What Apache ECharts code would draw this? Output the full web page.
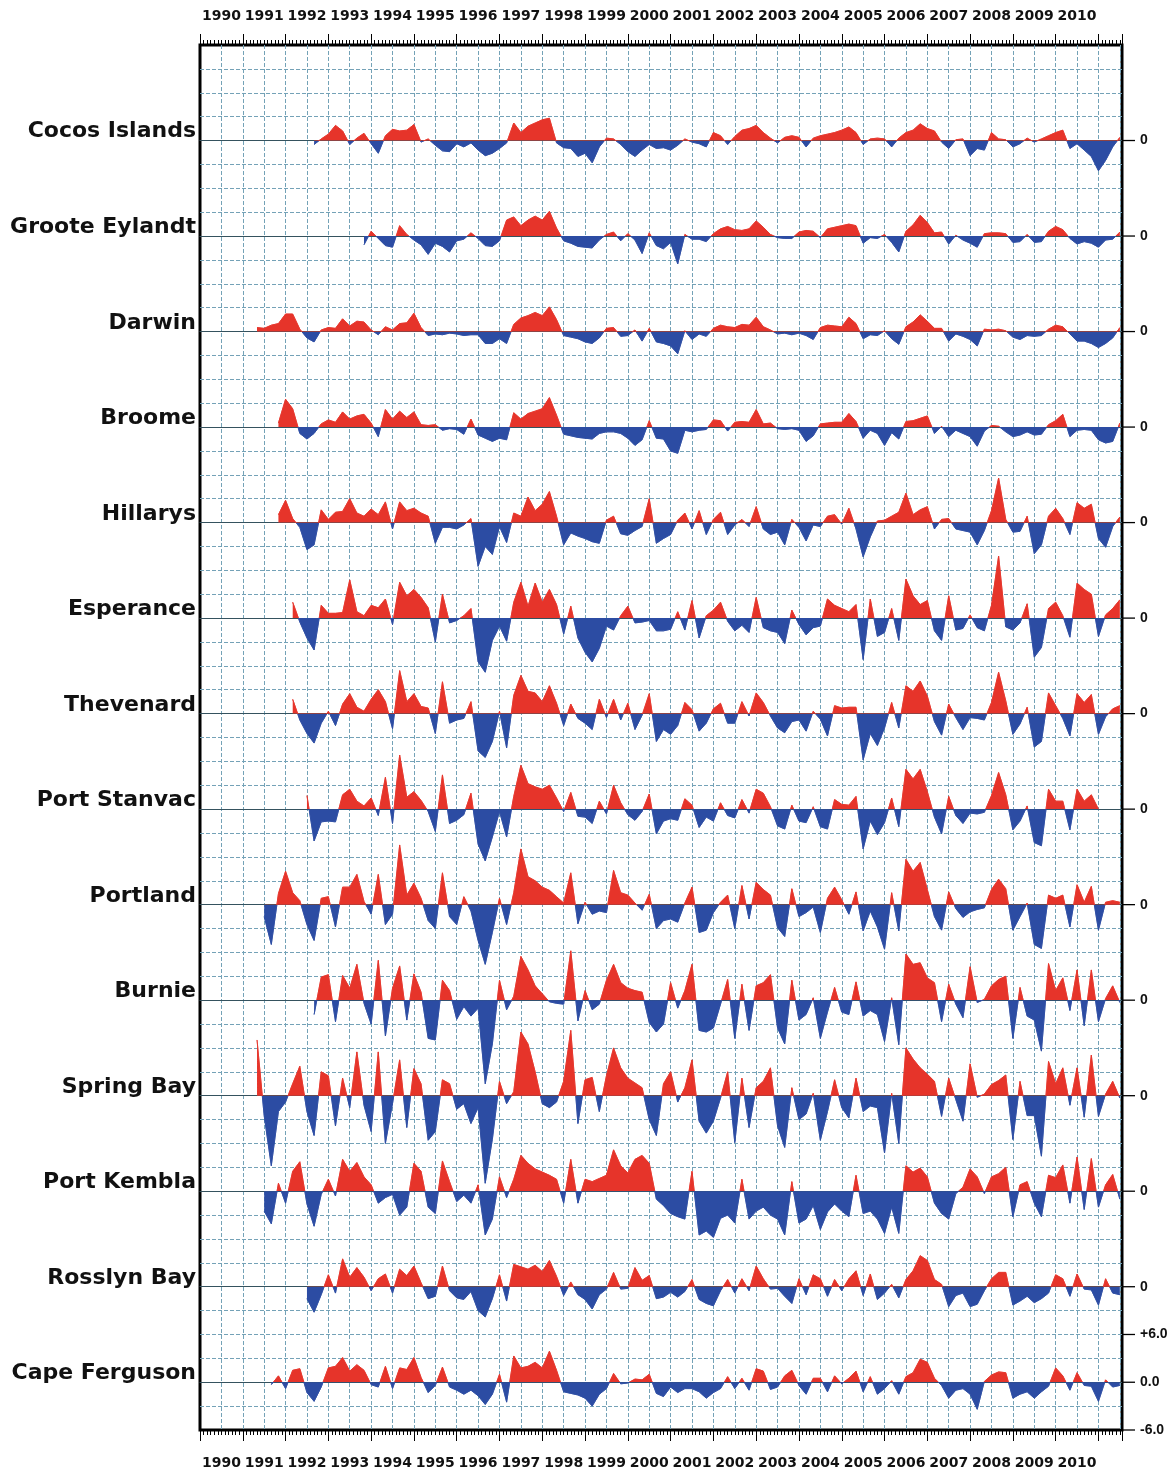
<!DOCTYPE html>
<html>
<head>
<meta charset="utf-8">
<title>Tide gauge anomalies</title>
<script src="https://cdn.jsdelivr.net/npm/echarts@6/dist/echarts.min.js"></script>
<style>
html, body { margin: 0; padding: 0; background: #fff; }
#main { width: 1176px; height: 1473px; }
</style>
</head>
<body>
<div id="main"></div>
<script>
// station names, top to bottom
var stations = ['Cocos Islands', 'Groote Eylandt', 'Darwin', 'Broome', 'Hillarys', 'Esperance', 'Thevenard',
    'Port Stanvac', 'Portland', 'Burnie', 'Spring Bay', 'Port Kembla', 'Rosslyn Bay', 'Cape Ferguson'];

// first sample of each record (decimal year), samples every two months
var starts = [1992.667, 1993.833, 1991.333, 1991.833, 1991.833, 1992.167, 1992.167,
    1992.5, 1991.5, 1992.667, 1991.333, 1991.5, 1992.5, 1991.667];

// values from the start up to 2000.667
var early = [
    [-0.5,0.2,0.8,1.9,1.2,-0.5, 0.3,0.9,-0.4,-1.6,0.6,1.4, 1.2,1.3,2.0,-0.2,0.2,-0.6, -1.3,-1.4,-0.4,-0.8,-0.3,-1.2, -1.9,-1.6,-1.0,-0.3,2.2,1.0, 1.8,2.2,2.6,2.8,-0.3,-0.9, -1.0,-2.0,-1.6,-2.8,-0.8,0.3, 0.2,-0.5,-1.4,-2.0,-1.2,-0.5, -1.0],
    [-1.1,0.6,-0.3,-1.2,-1.4,1.3, 0.2,-0.5,-1.1,-2.3,-0.9,-1.3, -2.0,-0.6,-0.4,0.4,-0.3,-1.2, -1.3,-0.6,2.0,2.4,1.3,2.0, 2.5,2.0,3.1,1.0,-0.6,-0.9, -1.3,-1.4,-1.5,-0.5,0.2,0.5, -0.6,0.3,-0.5,-2.2,0.4,-1.2],
    [0.5,0.4,0.8,1.0,2.2,2.2, 0.3,-0.8,-1.3,0.2,0.5,0.4, 1.6,0.7,1.3,1.2,0.2,-0.4, 0.6,0.2,1.0,1.1,2.3,0.5, -0.5,-0.3,-0.4,-0.2,-0.3,-0.5, -0.4,-0.4,-1.5,-1.5,-0.9,-1.5, 0.9,1.7,2.0,2.4,2.0,3.1, 1.5,-0.5,-0.7,-0.9,-1.3,-1.5, -0.8,0.4,0.5,-0.6,-0.5,0.2, -1.2,0.4,-1.3],
    [0.5,3.5,2.3,-0.8,-1.5,-0.8, 0.4,0.9,0.6,1.9,1.0,1.4, 1.6,0.5,-1.2,2.2,1.0,2.0, 1.2,1.9,0.3,0.2,0.3,-0.4, -0.2,-0.3,-0.9,1.0,-1.0,-1.4, -1.8,-1.4,-1.6,1.8,1.0,1.7, 2.0,2.3,3.7,1.5,-0.9,-1.1, -1.3,-1.4,-1.5,-0.8,-0.6,-0.6, -0.8,-1.4,-2.3,-1.6,0.8,-1.4],
    [1.0,2.8,0.5,-0.6,-3.4,-2.8, 1.6,0.4,1.3,1.4,3.0,1.2, 0.8,1.7,1.0,2.6,-0.8,2.6, 1.5,1.8,1.2,0.8,-2.6,-0.6, -0.6,-0.8,-0.3,0.5,-5.5,-3.0, -4.0,-0.5,-2.5,1.2,0.8,3.2, 1.5,2.3,3.9,0.8,-2.8,-1.3, -1.7,-2.0,-2.4,-2.6,0.3,0.8, -1.4,-1.6,-1.0,-0.5,3.0,-2.6],
    [2.0,-0.5,-2.5,-4.0,1.6,0.6, 0.6,0.7,4.8,0.8,0.3,1.6, 1.3,2.4,-0.8,4.5,2.8,3.6, 2.6,1.3,-3.0,3.0,-0.6,-0.3, 0.3,1.2,-5.5,-6.8,-2.8,-1.0, -2.9,2.0,4.5,1.5,4.4,2.0, 3.6,1.7,-2.0,1.5,-2.5,-4.3, -5.5,-3.8,-1.0,-1.5,0.3,1.5, -0.6,-0.5,-0.3,-1.6],
    [1.8,-0.8,-2.5,-3.7,-1.2,0.3, -1.5,1.2,2.5,0.8,0.3,1.8, 3.0,1.5,-1.9,5.4,1.5,2.5, 0.9,0.7,-2.5,4.0,-1.2,-0.8, -0.6,1.5,-4.7,-5.5,-3.5,0.3, -4.3,2.3,4.8,2.8,2.6,1.5, 3.5,1.3,-1.5,1.2,-0.6,-1.2, -2.0,1.8,-0.5,1.8,-0.8,1.3, -2.0,-0.2,2.5,-3.5],
    [1.7,-4.0,-1.6,-1.5,-1.6,1.8, 2.5,1.0,0.4,1.4,-0.8,4.0, -1.8,6.8,1.5,2.2,1.1,-0.3, -2.8,4.3,-1.8,-1.4,-0.7,2.0, -4.4,-6.5,-3.5,-0.3,-3.5,1.6, 5.5,3.2,2.8,2.5,3.0,1.4, -0.3,2.1,-0.9,-1.0,-1.8,1.0, -0.6,3.0,0.8,-0.7,-1.4,-0.3, 1.9,-3.1],
    [-1.5,-5.0,1.4,4.2,1.5,0.5, -2.5,-4.5,0.8,1.0,-2.8,2.2, 2.2,3.8,0.4,-1.2,3.8,-2.5, -1.2,7.5,1.2,2.7,0.8,-2.0, -3.0,4.0,-1.5,-2.5,1.0,-0.8, -4.5,-7.5,-3.5,0.8,-2.5,1.5, 7.0,3.5,3.0,2.2,1.8,1.0, 0.2,4.0,-2.4,0.3,-1.2,-0.8, -1.0,4.3,1.5,1.2,0.2,-0.7, 1.3,-3.0],
    [-1.8,2.9,3.2,-2.7,3.1,1.5, 4.5,-0.4,-3.0,5.0,-4.5,1.5, 4.3,-2.5,3.3,1.0,-4.8,-5.0, 2.5,1.2,-2.4,-0.8,-2.0,-1.0, -10.5,-5.5,2.5,-1.2,0.5,5.5, 3.8,1.8,0.8,-0.2,-0.4,-0.5, 6.2,-2.6,1.2,-1.2,-0.5,2.5, 4.5,2.2,1.5,1.2,1.0,-2.8, -4.0],
    [7.0,-2.5,-8.8,-2.0,-0.8,1.5, 3.7,-2.0,-5.0,3.0,2.5,-3.8, 2.2,-1.5,5.5,-1.2,-4.5,5.5, -6.0,-1.0,4.5,-4.0,3.4,1.5, -5.6,-4.5,2.0,1.5,-1.7,-1.0, -3.5,-1.5,-11.0,-5.5,1.8,-1.0, 0.5,8.0,6.5,3.0,-1.0,-1.5, -0.8,1.8,8.2,-3.5,2.0,2.3, -2.0,2.5,6.0,3.5,2.2,1.6, 1.0,-3.0,-5.0],
    [-2.5,-4.1,1.0,-1.5,2.5,3.7, -1.6,-4.4,-0.4,1.5,-0.6,4.0, 2.5,3.6,1.8,0.8,-1.5,-0.8, -0.4,-3.0,-2.0,3.5,2.5,-2.0, -2.8,3.8,1.2,-1.3,-0.5,-1.5, 0.8,-5.5,-3.5,1.8,-0.8,1.5, 4.5,3.5,2.8,2.4,2.0,1.5, -1.5,4.0,-1.5,1.5,1.2,1.6, 2.0,5.2,3.2,2.3,4.0,4.5, 3.5,-1.0],
    [-1.5,-3.2,-1.0,1.5,-0.8,3.5, 1.2,2.4,1.2,-0.5,1.0,1.6, -0.8,2.2,1.4,2.6,0.5,-1.5, -1.2,2.6,-0.5,-1.4,-1.6,-0.6, -3.0,-3.8,-1.5,1.5,-1.8,2.8, 2.5,2.2,2.7,1.9,3.3,1.3, -1.1,0.6,-1.0,-1.6,-2.8,-1.0, -0.3,1.8,-0.3,-0.2,2.4,0.8, 1.4,-1.5],
    [-0.3,0.8,-0.8,1.5,1.7,-1.3, -2.4,-0.6,1.8,2.0,3.1,1.4, 2.2,1.5,-0.3,-0.6,2.0,-0.8, 1.8,1.6,3.1,0.6,-1.3,-0.4, 1.9,-0.6,-1.0,-1.5,-1.0,-1.7, -2.8,-1.5,1.0,-2.5,3.3,1.8, 2.0,2.5,1.8,3.9,1.5,-1.2, -1.4,-1.6,-2.0,-3.0,-1.5,-0.8, 1.1,-0.2,-0.1,0.4,0.3,1.0, -1.4]
];

// values from 2000.833 onwards
var lateStart = 2000.833;
var late = [
    [-0.9,-1.2,-0.6,0.2,-0.2,-0.4, -0.8,1.0,0.6,-0.5,0.5,1.3, 1.5,1.9,1.0,0.3,-0.3,0.4, 0.6,0.4,-0.8,0.3,0.6,0.8, 1.0,1.3,1.7,1.0,-0.5,0.2, 0.3,0.2,-0.8,0.3,1.0,1.3, 2.1,1.5,1.2,-0.2,-1.0,0.1, 0.2,-1.9,-1.0,-1.2,1.0,0.2, 0.1,-0.8,-0.4,0.3,-0.2,0.2, 0.6,1.0,1.3,-1.0,-0.4,-1.2, -2.0,-3.8,-2.5,-0.8,0.4],
    [-1.6,-0.8,-3.5,0.2,-0.4,-0.4, -0.7,0.3,0.9,1.2,0.8,0.7, 0.9,1.9,1.1,0.2,-0.2,-0.3, -0.3,0.5,0.7,0.6,-0.2,0.9, 1.1,1.3,1.5,1.3,-0.9,-0.2, -0.3,0.2,-0.8,-2.0,0.6,1.4, 2.6,1.7,0.4,0.5,-1.0,0.1, -0.5,-0.9,-1.4,0.3,0.4,0.4, 0.3,-0.8,-0.7,0.2,-0.8,-0.7, 0.6,1.2,0.8,-0.3,-1.0,-0.7, -0.9,-1.4,-0.5,-0.4,0.5],
    [-1.5,-1.8,-2.8,0.1,-1.0,-0.3, -0.6,0.4,0.8,0.6,0.5,0.9, 0.8,1.8,0.6,0.2,-0.3,-0.2, -0.4,-0.2,-0.5,-1.0,0.5,0.8, 0.7,0.6,1.8,1.0,-0.9,-0.4, -0.5,0.1,-0.9,-1.6,0.6,1.2, 2.1,1.3,0.4,0.4,-1.2,-0.3, -0.6,-1.0,-1.8,0.3,0.2,0.3, 0.1,-0.7,-1.0,-0.5,-0.6,-0.5, 0.3,0.8,0.6,-0.3,-1.2,-1.2, -1.5,-2.0,-1.5,-0.8,0.5],
    [-1.5,-3.0,-3.3,-0.4,-0.6,-0.4, -0.3,0.9,0.8,-0.5,0.6,0.7, 0.6,2.2,0.4,0.5,-0.2,-0.3, -0.2,-0.4,-1.8,-1.1,0.4,0.5, 0.6,0.6,1.7,0.7,-1.4,-0.4, -0.8,-2.3,-0.7,-1.5,0.7,0.8, 1.1,1.4,-0.8,0.1,-1.2,-0.4, -0.8,-1.2,-2.4,-0.5,0.2,0.1, -0.6,-1.2,-1.0,-0.6,-1.0,-0.9, 0.3,0.8,1.6,-1.2,-0.4,-0.3, -0.4,-1.6,-2.0,-1.8,0.5],
    [-2.0,-1.5,0.3,1.2,-0.8,1.5, -1.5,0.4,1.3,-1.5,-0.3,0.4, -0.5,2.0,-0.8,-1.5,-1.2,-2.8, 0.4,-0.6,-2.3,-0.3,-0.5,0.8, 1.0,-0.2,1.8,-0.8,-4.3,-1.8, 0.2,0.3,0.8,1.3,3.7,1.0, 1.6,2.0,-0.8,0.4,0.5,-0.8, -1.0,-1.2,-2.8,-1.0,1.5,5.6, 0.4,-1.2,-1.1,0.8,-3.9,-2.8, 0.8,1.8,0.5,-1.5,2.5,1.8, 2.3,-2.0,-3.1,-0.5,0.7],
    [-1.6,-1.4,0.8,-1.5,2.2,-2.5, 0.3,1.0,2.0,-0.4,-1.6,-0.9, -1.8,2.6,-1.2,-1.6,-1.8,-3.2, 1.0,-0.8,-2.1,-1.2,-1.0,2.4, 1.6,1.2,0.8,1.7,-5.2,2.4, -2.3,-1.8,1.2,-2.8,4.9,2.8, 1.7,2.2,-1.6,-2.8,2.8,-1.5, -1.3,0.4,-1.2,-1.6,1.6,7.8, -1.1,-1.5,-0.6,1.8,-4.9,-3.7, 1.2,2.0,0.3,-2.4,4.4,3.6, 3.0,-2.3,0.4,1.2,2.3],
    [-2.0,-2.6,-1.5,1.4,0.5,-2.2, -1.2,0.6,1.3,-1.2,-1.2,1.5, -0.3,2.6,1.4,-0.3,-1.8,-2.4, -1.0,-0.8,-2.2,0.3,-0.7,-2.8, 1.0,0.7,0.8,0.8,-5.8,-2.5, -4.0,-1.8,1.4,-1.8,3.5,2.8, 4.1,2.2,-1.0,-2.7,1.2,-0.5, -2.0,-0.5,-0.6,-0.8,1.4,5.2, 1.6,-2.6,-1.3,0.8,-4.2,-3.5, 2.6,1.0,-0.6,-2.8,2.5,1.4, 2.4,-2.6,-0.4,0.6,1.0],
    [-1.5,-1.2,-1.4,1.3,0.5,-2.3, -1.0,-1.5,0.8,-0.8,-1.1,1.2, -0.5,2.5,2.0,0.3,-2.1,-2.5, 0.5,-1.5,-1.7,0.3,-2.2,-2.5, 1.2,0.6,0.5,1.6,-5.0,-1.5, -3.2,-1.7,1.4,-2.2,5.0,3.8, 5.0,2.2,-1.0,-3.1,1.6,-0.8, -1.8,-0.5,-0.6,-0.4,1.7,4.6, 1.8,-2.6,-1.5,0.4,-4.2,-4.6, 2.5,1.0,1.0,-2.6,2.5,1.0, 1.8,0],
    [-2.0,-1.8,-2.2,0.2,2.2,-3.5, -3.2,-1.0,0.3,1.2,-3.0,2.4, -1.8,2.8,1.9,1.2,-2.9,-4.0, 2.0,-1.5,-1.0,-0.3,-3.5,0.8, 2.2,0.6,-1.2,1.6,-3.3,-0.8, -2.8,-5.6,1.5,-3.3,5.7,4.2, 5.3,1.9,-1.5,-3.2,1.6,-0.5, -1.6,-0.9,-0.6,-0.4,1.9,3.2, 2.0,-3.2,-1.5,0.2,-5.0,-5.5, 1.2,0.8,1.2,-2.8,2.5,0.3, 2.3,-3.2,0.3,0.5,0.3],
    [-3.0,2.2,-1.0,1.2,4.5,-3.8, -4.0,-3.5,-0.5,2.6,-4.8,2.0, -3.8,1.8,2.2,3.2,-3.5,-5.5, 2.5,-2.5,-1.8,0.3,-4.8,-1.5, 1.6,-1.5,-1.8,2.3,-2.0,-1.3, -1.8,-5.2,0.3,-5.6,5.8,4.5, 4.7,2.8,2.2,-2.7,2.0,-0.5, -2.2,4.2,-0.3,0.1,1.8,2.6, 3.0,-4.8,1.6,-2.0,-2.5,-6.4, 4.6,1.2,2.8,-1.3,3.8,-3.2, 3.8,-2.7,0.2,1.8,-0.3],
    [1.5,3.0,-0.8,1.0,4.5,-3.2, -4.7,-3.2,-0.3,3.0,-5.9,2.2, -4.0,1.0,1.8,3.5,-3.8,-6.5, 1.0,-3.0,-2.3,0.3,-5.6,-2.0, 2.0,-1.5,-2.8,2.2,-2.0,-1.3, -1.5,-7.2,0.3,-6.0,6.0,4.6, 3.5,2.7,1.8,-2.6,2.2,-0.5, -3.2,4.0,-0.2,0.2,1.4,1.9, 2.6,-5.5,1.8,-2.5,-2.5,-7.6, 4.3,1.5,3.5,-1.2,3.5,-2.7, 5.1,-2.6,0.2,1.8,-0.3],
    [-1.8,-2.8,-3.2,-3.5,2.5,-5.5, -5.0,-5.8,-3.4,-3.0,-4.0,1.5, -3.5,-2.5,-2.0,-3.0,-3.5,-5.5, 1.2,-4.0,-3.5,-1.8,-4.8,-2.6, -1.6,-2.5,-3.2,2.0,-2.8,-2.5, -3.5,-5.3,-2.0,-5.3,3.2,2.4, 2.9,1.8,-1.5,-2.8,-3.5,-0.3, 0.5,2.8,1.8,-0.3,1.8,2.2, 3.0,-3.2,0.8,1.2,-1.5,-3.2, 2.0,1.7,3.3,-1.5,4.3,-2.3, 4.1,-2.0,0.8,2.1,-1.0],
    [-1.3,-0.7,-1.3,-0.6,0.9,-1.6, -2.1,-2.4,-0.5,0.9,-0.8,1.0, -0.5,2.6,1.0,-0.3,-0.2,-1.2, -2.1,1.0,-1.0,1.5,1.0,-1.2, 0.9,-0.5,1.0,2.0,-1.1,1.6, -1.6,-0.8,0.3,-1.4,0.9,2.0, 3.9,3.3,0.9,0.3,-2.5,-1.1, -0.8,-2.5,-2.2,-0.5,1.0,1.8, 1.8,-2.3,-1.8,-1.2,-2.0,-1.5, -0.8,1.5,1.0,-1.2,1.6,-0.3, -0.4,-2.3,1.0,-0.8,-1.0],
    [-1.8,-0.6,-1.3,-0.8,-0.8,-1.2, -2.0,-1.3,-0.8,0.7,-0.8,0.5, -1.0,1.7,1.4,-0.9,-0.6,0.8, 1.5,-0.4,-1.5,0.5,0.5,-1.2, 0.8,-0.2,0.5,1.4,-1.2,0.7, -1.5,-0.8,0.2,-1.5,0.7,1.2, 2.9,2.5,0.5,-0.4,-2.0,-1.0, -0.8,-1.5,-3.4,0.1,0.9,1.3, 1.2,-2.0,-1.5,-1.2,-2.0,-1.2, -0.5,1.8,0.8,-1.0,1.2,-0.4, -0.5,-2.4,0.3,-0.6,-0.4]
];

var yearLabels = ['1990', '1991', '1992', '1993', '1994', '1995', '1996', '1997', '1998', '1999', '2000',
    '2001', '2002', '2003', '2004', '2005', '2006', '2007', '2008', '2009', '2010'];
var zeroLabels = ['0'];
var scaleLabels = ['-6.0', '0.0', '+6.0'];
var scaleValues = [-6, 0, 6];

var red = '#e6342a', blue = '#2c4ca3';
var gridColor = '#74a2b7', zeroColor = '#35525e';
var plotLeft = 200, plotTop = 45, plotWidth = 922, plotHeight = 1385;
var slot = plotHeight / 14.5;
var xMin = 1990, xMax = 2011.55;
var step = 1 / 6;

function yearLabel(v) {
    var y = Math.floor(v);
    if (Math.abs(v - y - 0.5) > 1e-6) return '';
    return yearLabels[y - 1990] || '';
}

var labelFont = { fontFamily: 'DejaVu Sans', fontWeight: 'bold', color: '#111' };

var grids = [{
    left: plotLeft, top: plotTop, width: plotWidth, height: plotHeight,
    show: true, borderColor: '#000', borderWidth: 3, backgroundColor: 'transparent', outerBoundsMode: 'none'
}];
var xAxes = [];
var yAxes = [{
    gridIndex: 0, type: 'value', min: 0, max: 174, interval: 3,
    axisLine: { show: false, onZero: false }, axisTick: { show: false }, axisLabel: { show: false },
    splitLine: { show: true, showMinLine: false, showMaxLine: false, lineStyle: { color: gridColor, width: 1, type: [4, 2] } }
}];

['top', 'bottom'].forEach(function (pos, k) {
    xAxes.push({
        gridIndex: 0, type: 'value', position: pos, min: xMin, max: xMax, interval: 1,
        axisLine: { show: false, onZero: false },
        axisTick: { show: true, length: 11, lineStyle: { color: '#000', width: 1 } },
        minorTick: { show: true, splitNumber: 12, length: 5, lineStyle: { color: '#000', width: 1 } },
        axisLabel: { show: false }, splitLine: { show: false }
    });
    xAxes.push({
        gridIndex: 0, type: 'value', position: pos, min: xMin, max: xMax, interval: 0.5,
        axisLine: { show: false, onZero: false }, axisTick: { show: false },
        axisLabel: Object.assign({ formatter: yearLabel, margin: k === 0 ? 22 : 26, fontSize: 14 }, labelFont),
        splitLine: {
            show: k === 0, showMinLine: false, showMaxLine: false,
            lineStyle: { color: gridColor, width: 1, type: [4, 2] }
        }
    });
});

var series = [];
stations.forEach(function (name, i) {
    var last = i === stations.length - 1;
    var valueAxis = 1 + 2 * i;
    grids.push({
        left: plotLeft, width: plotWidth, top: plotTop + (0.5 + i) * slot, height: slot,
        outerBoundsMode: 'none'
    });
    xAxes.push({
        gridIndex: i + 1, type: 'value', min: xMin, max: xMax,
        axisLine: { show: true, onZero: true, onZeroAxisIndex: valueAxis, lineStyle: { color: zeroColor, width: 1 } },
        axisTick: { show: false }, axisLabel: { show: false }, splitLine: { show: false }
    });
    // value axis carrying the series; its only label is the station name
    yAxes.push({
        gridIndex: i + 1, type: 'value', position: 'left', min: -6, max: 6,
        axisLine: { show: false, onZero: false }, axisTick: { show: false },
        axisLabel: Object.assign({ customValues: [1.1], margin: 4, fontSize: 22, formatter: function () { return name; } }, labelFont),
        splitLine: { show: false }
    });
    // right-hand scale labels
    yAxes.push({
        gridIndex: i + 1, type: 'category', position: 'right',
        data: last ? scaleLabels : zeroLabels, boundaryGap: !last,
        axisLine: { show: false, onZero: false },
        axisTick: { show: false },
        axisLabel: { interval: 0, margin: 18, fontSize: 14, fontFamily: 'Liberation Sans', fontWeight: 'bold', color: '#111' },
        splitLine: { show: false }
    });

    var pts = early[i].map(function (v, k) { return [starts[i] + k * step, v]; })
        .concat(late[i].map(function (v, k) { return [lateStart + k * step, v]; }));

    series.push({
        type: 'line', name: name, xAxisIndex: 4 + i, yAxisIndex: valueAxis,
        data: pts, symbol: 'none', clip: false, silent: true,
        lineStyle: { width: 0.8 }, areaStyle: { opacity: 1 }
    });
});

var chart = echarts.init(document.getElementById('main'));
chart.setOption({
    backgroundColor: '#fff',
    animation: false,
    grid: grids,
    xAxis: xAxes,
    yAxis: yAxes,
    visualMap: {
        type: 'piecewise', show: false, dimension: 1,
        pieces: [{ min: -40, max: 0, color: blue }, { min: 0, max: 40, color: red }]
    },
    series: series
});

// short rules from the right frame to the scale labels, placed through each station's scale
var rules = [];
stations.forEach(function (name, i) {
    var vals = i === stations.length - 1 ? scaleValues : [0];
    vals.forEach(function (v) {
        var p = chart.convertToPixel({ xAxisIndex: 4 + i, yAxisIndex: 1 + 2 * i }, [xMax, v]);
        rules.push({
            type: 'line', silent: true, z: 10,
            shape: { x1: p[0], y1: p[1], x2: p[0] + 13, y2: p[1] },
            style: { stroke: '#000', lineWidth: 1.3 }
        });
    });
});
chart.setOption({ graphic: rules });
</script>
</body>
</html>
